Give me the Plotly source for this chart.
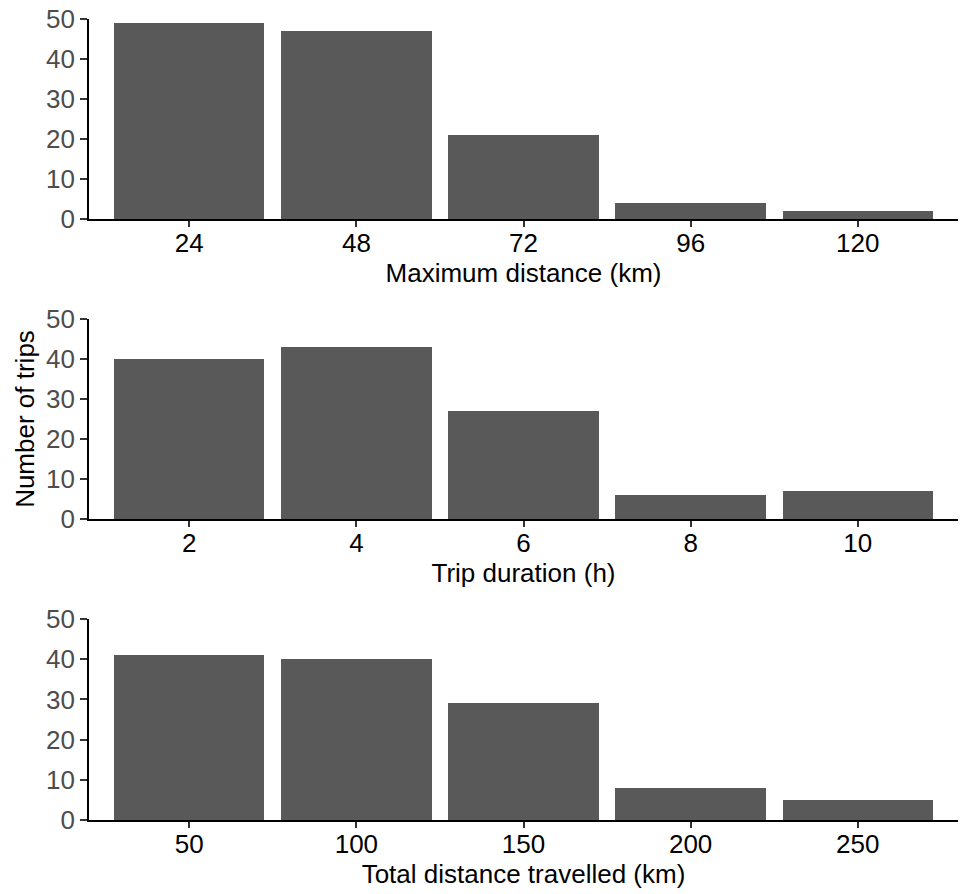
import plotly.graph_objects as go

max_dist_labels = ["24", "48", "72", "96", "120"]
max_dist_counts = [49, 47, 21, 4, 2]

duration_labels = ["2", "4", "6", "8", "10"]
duration_counts = [40, 43, 27, 6, 7]

total_dist_labels = ["50", "100", "150", "200", "250"]
total_dist_counts = [41, 40, 29, 8, 5]

x_titles = ["Maximum distance (km)", "Trip duration (h)", "Total distance travelled (km)"]
y_title = "Number of trips"
y_ticks = [0, 10, 20, 30, 40, 50]

W, H = 963, 894
mt, mb, ml, mr = 19, 74, 89, 5
ph = H - mt - mb
tops = [19, 319, 619]
bottoms = [219, 519, 820]
domains = [[1 - (b - mt) / ph, 1 - (t - mt) / ph] for t, b in zip(tops, bottoms)]
domains[2][0] = 0.0

fig = go.Figure()
series = [(max_dist_labels, max_dist_counts), (duration_labels, duration_counts), (total_dist_labels, total_dist_counts)]
font = "Liberation Sans, Arial, sans-serif"
fs = 26
for i, (labs, vals) in enumerate(series):
    sfx = "" if i == 0 else str(i + 1)
    fig.add_trace(go.Bar(x=labs, y=vals, width=0.9, marker=dict(color="#595959", line=dict(width=0)),
                         xaxis="x" + sfx, yaxis="y" + sfx, showlegend=False))
    fig.layout["xaxis" + sfx] = dict(
        domain=[0, 1], anchor="y" + sfx, type="category", range=[-0.6, 4.6],
        showline=True, linecolor="black", linewidth=1.8, showgrid=False, zeroline=False,
        ticks="outside", ticklen=6, tickwidth=1.5, tickcolor="#333333", ticklabelstandoff=-6,
        tickfont=dict(family=font, size=fs, color="black"),
        title=dict(text=x_titles[i], font=dict(family=font, size=fs, color="black"), standoff=2),
        fixedrange=True,
    )
    fig.layout["yaxis" + sfx] = dict(
        domain=domains[i], anchor="x" + sfx, range=[0, 50], tickvals=y_ticks,
        showline=True, linecolor="black", linewidth=1.8, showgrid=False, zeroline=False,
        ticks="outside", ticklen=7, tickwidth=1.5, tickcolor="#333333",
        tickfont=dict(family=font, size=fs, color="#4d4d4d"),
        fixedrange=True,
    )

fig.layout.yaxis2.title = dict(text=y_title, font=dict(family=font, size=fs, color="black"), standoff=4)

fig.update_layout(
    width=W, height=H, margin=dict(l=ml, r=mr, t=mt, b=mb),
    plot_bgcolor="white", paper_bgcolor="white", bargap=0,
)
fig.write_html("out.html")
